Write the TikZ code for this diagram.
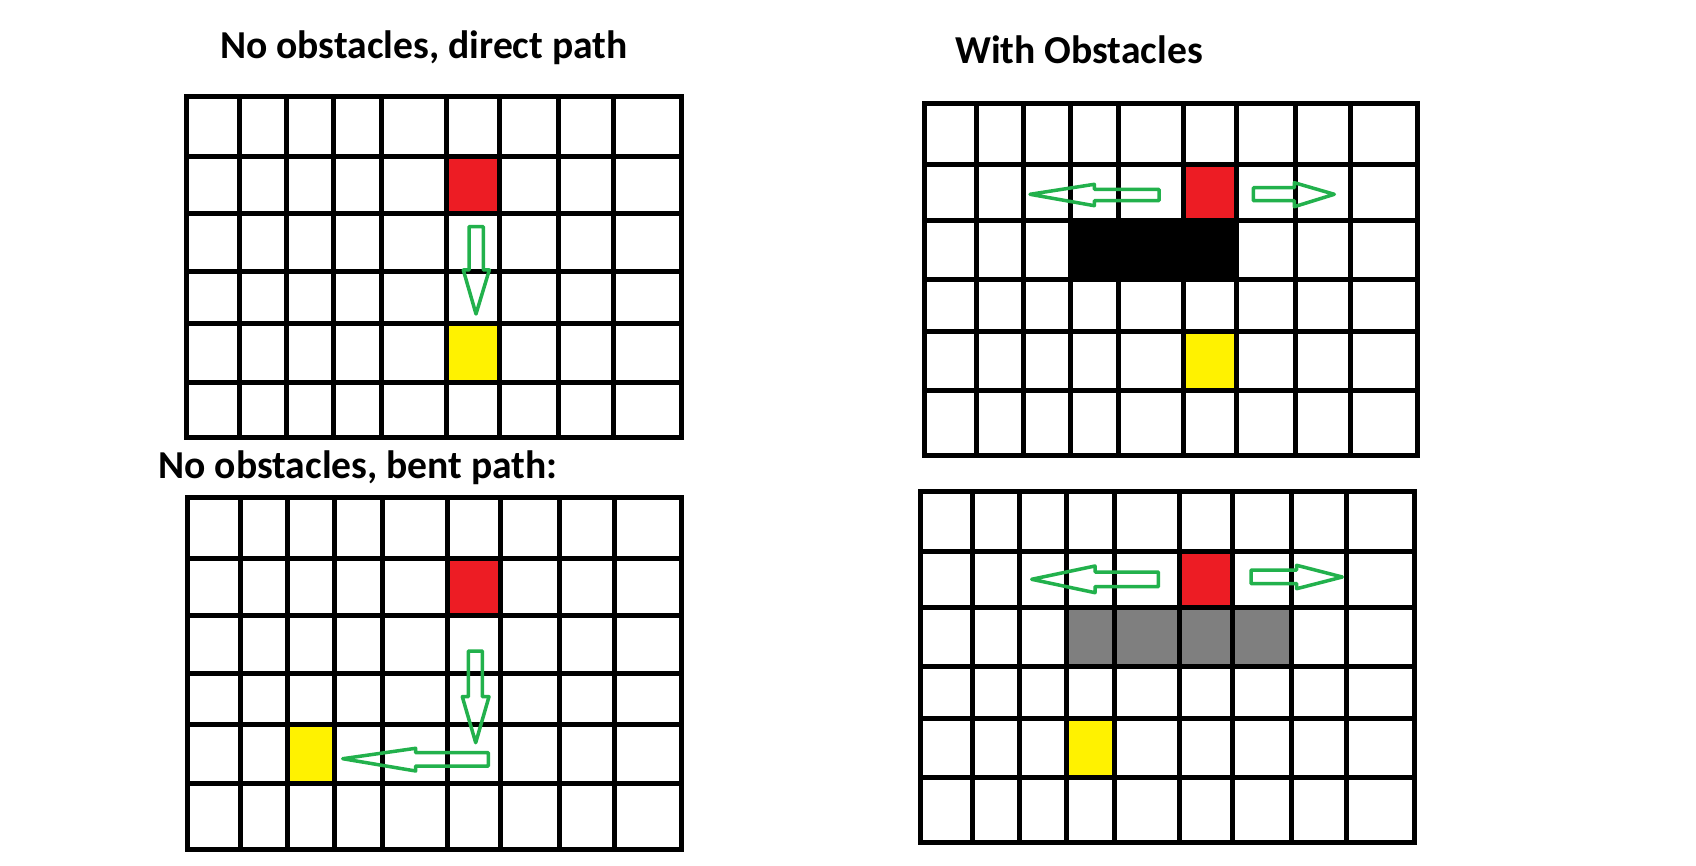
\documentclass[tikz,border=0pt]{standalone}
\usepackage{fontspec}
\setmainfont{Carlito}
\definecolor{pred}{HTML}{ED1C24}
\definecolor{pyellow}{HTML}{FFF200}
\definecolor{pgreen}{HTML}{22B14C}
\definecolor{pgray}{HTML}{7F7F7F}
\tikzset{
  gridline/.style={line width=5pt, black, line cap=rect},
  blockarrow/.style={draw=pgreen, line width=3.5pt, line join=round},
  titletext/.style={anchor=base west, inner sep=0pt, font=\fontsize{39.6}{42}\selectfont\bfseries},
}
\newcommand\mygrid[6]{%
  \foreach \xx in {#1} \draw[gridline] (\xx,#5) -- (\xx,#6);
  \foreach \yy in {#2} \draw[gridline] (#3,\yy) -- (#4,\yy);
}
\begin{document}
\begin{tikzpicture}[x=1pt,y=-1pt]
\useasboundingbox (0,0) rectangle (1696,866);
\fill[white] (0,0) rectangle (1696,866);

% titles
\node[titletext] (t1) at (220,58.3) {No obstacles, direct path};
\node[titletext] (t2) at (955,63.3) {With Obstacles};
\node[titletext] (t3) at (158.3,478.7) {No obstacles, bent path:};

% ---- grid 1
\fill[pred] (446.3,156.7) rectangle (499.3,213.3);
\fill[pyellow] (446.3,324) rectangle (499.3,382.7);
\mygrid{186,239.3,286.3,333.3,381.3,446.3,499.3,558.3,613.3,681}{96.7,156.7,213.3,271.7,324,382.7,437.7}{186}{681}{96.7}{437.7}
\draw[blockarrow] (469,226.7) -- (483.3,226.7) -- (483.3,270) -- (489.3,270) -- (476,314) -- (463.3,270) -- (469,270) -- cycle;

% ---- grid 2
\fill[pred] (1183.3,164.3) rectangle (1236.3,220.7);
\fill[black] (1070.3,220.7) rectangle (1236.3,280);
\fill[pyellow] (1183.3,331.7) rectangle (1236.3,390);
\mygrid{924,976,1023.3,1070.3,1118.3,1183.3,1236.3,1295.3,1350.3,1417.7}{104,164.3,220.7,280,331.7,390,455}{924}{1417.7}{104}{455}
\draw[blockarrow] (1030,194.3) -- (1094.3,184.3) -- (1094.3,189.3) -- (1159,189.3) -- (1159,200.7) -- (1094.3,200.7) -- (1094.3,205.7) -- cycle;
\draw[blockarrow] (1253.3,187.7) -- (1294.3,187.7) -- (1294.3,182.7) -- (1334.3,194.3) -- (1294.3,206.7) -- (1294.3,200.7) -- (1253.3,200.7) -- cycle;

% ---- grid 3
\fill[pred] (447.3,558.3) rectangle (500,615);
\fill[pyellow] (287,724.7) rectangle (334,783.7);
\mygrid{187.7,240,287,334,382.3,447.3,500,559,614.3,681}{497.7,558.3,615,673.7,724.7,783.7,849.3}{187.7}{681}{497.7}{849.3}
\draw[blockarrow] (468.3,651) -- (482.3,651) -- (482.3,696.7) -- (489,696.7) -- (475.7,742.7) -- (462.3,696.7) -- (468.3,696.7) -- cycle;
\draw[blockarrow] (342.7,758.7) -- (415.7,748.3) -- (415.7,752.7) -- (488.3,752.7) -- (488.3,766) -- (415.7,766) -- (415.7,771) -- cycle;

% ---- grid 4
\fill[pred] (1179.3,551.7) rectangle (1232.3,607.7);
\fill[pgray] (1066.3,607.7) rectangle (1291.7,666.7);
\fill[pyellow] (1066.3,718.3) rectangle (1114.3,777);
\mygrid{920,972.3,1019.3,1066.3,1114.3,1179.3,1232.3,1291.7,1346.7,1414}{491,551.7,607.7,666.7,718.3,777,842}{920}{1414}{491}{842}
\draw[blockarrow] (1031.7,579.3) -- (1095,566) -- (1095,572) -- (1158.3,572) -- (1158.3,586.7) -- (1095,586.7) -- (1095,592.7) -- cycle;
\draw[blockarrow] (1251,570) -- (1296.7,570) -- (1296.7,565.3) -- (1342.3,577) -- (1296.7,588.7) -- (1296.7,583.7) -- (1251,583.7) -- cycle;
\end{tikzpicture}
\end{document}
